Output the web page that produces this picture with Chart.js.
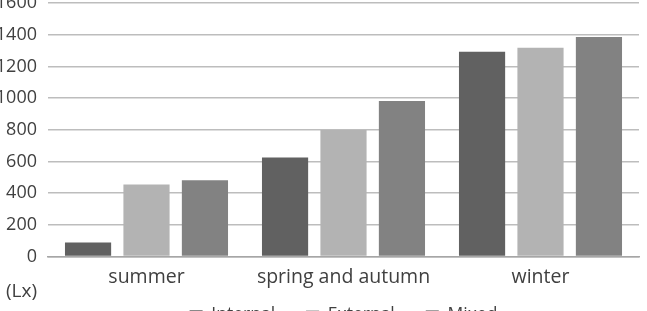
<!DOCTYPE html>
<html>
<head>
<meta charset="utf-8">
<script src="https://cdn.jsdelivr.net/npm/chart.js@4.4.1/dist/chart.umd.min.js"></script>
<style>
  html, body { margin: 0; padding: 0; background: #fff; overflow: hidden; }
  body { width: 647px; height: 311px; position: relative; }
  #wrap { position: absolute; left: 0; top: -20px; width: 647px; height: 354px; }
</style>
</head>
<body>
<div id="wrap"><canvas id="chartLux"></canvas></div>
<script>
// seasons and illuminance (Lx)
const seasons = ['summer', 'spring and autumn', 'winter'];
const internalLx = [88, 625, 1292];
const externalLx = [455, 798, 1317];
const mixedLx = [481, 981, 1385];
const yTicks = [0, 200, 400, 600, 800, 1000, 1200, 1400, 1600];
const unitLabel = '(Lx)';

const textColor = '#404040';
Chart.defaults.font.family = "'Open Sans', sans-serif";
Chart.defaults.font.size = 19.5;
Chart.defaults.color = textColor;

// draws the "(Lx)" unit under the y axis
const unitPlugin = {
    id: 'unitPlugin',
    afterDraw(chart) {
        const ctx = chart.ctx;
        const y = chart.scales.y;
        ctx.save();
        ctx.font = "19px 'Open Sans', sans-serif";
        ctx.fillStyle = textColor;
        ctx.textAlign = 'right';
        ctx.textBaseline = 'middle';
        ctx.fillText(unitLabel, y.right - 11, y.bottom + 35);
        ctx.restore();
    }
};

new Chart(document.getElementById('chartLux'), {
    type: 'bar',
    data: {
        labels: seasons,
        datasets: [
            { label: 'Internal', data: internalLx, backgroundColor: '#616161' },
            { label: 'External', data: externalLx, backgroundColor: '#b3b3b3' },
            { label: 'Mixed', data: mixedLx, backgroundColor: '#828282' }
        ]
    },
    options: {
        responsive: true, maintainAspectRatio: false, animation: false,
        layout: { padding: { top: 23, right: 8, left: 0, bottom: 0 } },
        datasets: { bar: { barPercentage: 0.79, categoryPercentage: 0.89 } },
        scales: {
            x: {
                // squeeze the axis so the legend sits closer, but keep labels unclipped
                afterFit(scale) {
                    scale.height = 19;
                    scale._computeLabelArea = () => null;
                },
                grid: { display: false, drawTicks: false },
                border: { display: true, color: '#a6a6a6', width: 1.5 },
                ticks: { padding: 9, color: textColor }
            },
            y: {
                min: 0, max: 1600,
                afterFit(scale) { scale.width = 48; },
                afterBuildTicks(scale) { scale.ticks = yTicks.map(v => ({ value: v })); },
                grid: { color: '#bdbdbd', lineWidth: 1.5, drawTicks: false },
                border: { display: false },
                ticks: { padding: 11, color: textColor, font: { size: 18 }, callback: v => String(v) }
            }
        },
        plugins: {
            legend: {
                position: 'bottom',
                fullSize: false,
                labels: { boxWidth: 13, boxHeight: 10, padding: 31, color: textColor, font: { size: 17.5 } }
            },
            tooltip: { enabled: false }
        }
    },
    plugins: [unitPlugin]
});
</script>
</body>
</html>
